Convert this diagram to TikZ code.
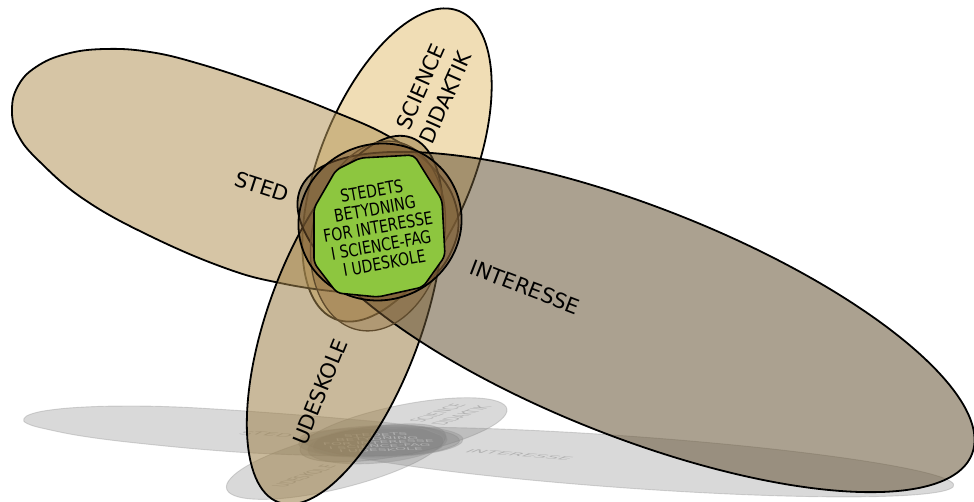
\documentclass[tikz,border=0pt]{standalone}
\usepackage{fontspec}
\setmainfont{DejaVu Sans}
\newfontfamily\condfont{DejaVu Sans}[FakeStretch=0.8]
\definecolor{scic}{RGB}{228,193,120}
\definecolor{stedc}{RGB}{180,150,91}
\definecolor{udec}{RGB}{157,128,73}
\definecolor{intc}{RGB}{102,84,53}
\definecolor{ringa}{RGB}{120,86,47}
\definecolor{ringb}{RGB}{140,105,60}
\definecolor{greenc}{RGB}{141,198,63}
\definecolor{edgeb}{RGB}{95,75,45}
\tikzset{
  big/.style={fill opacity=0.55, draw=black, line width=1.8pt},
  lab/.style={font=\fontsize{21}{27}\selectfont, align=center, inner sep=0pt},
  glab/.style={font=\condfont\fontsize{17.5}{18.3}\selectfont, align=center, inner sep=0pt},
  sh/.style={fill=black!50, fill opacity=0.3, draw=black!40, draw opacity=0.4, line width=0.9pt},
  shtext/.style={text=black!30, transform shape},
}
\newcommand\allshapes[7]{%
  \path[#1, rotate around={68:(397,165)}] (397,165) ellipse [x radius=166pt, y radius=77pt];
  \path[#2] plot[smooth cycle, tension=0.7] coordinates {(12,110) (18,86) (36,67) (66,54) (105,49) (150,52) (200,64) (267,86) (330,110) (390,137) (435,170) (457,210) (452,250) (425,282) (380,293) (340,292) (280,283) (225,268) (150,236) (85,200) (40,162) (18,135)};
  \path[#3, rotate around={70:(345,320)}] (345,320) ellipse [x radius=194pt, y radius=77pt];
  \path[#4, rotate around={-21.5:(636,322)}] (636,322) ellipse [x radius=361pt, y radius=115pt];
  \path[#5, rotate around={-12:(378,236)}] (378,236) ellipse [x radius=66pt, y radius=96pt];
  \path[#6, rotate around={20:(380,222)}] (380,222) ellipse [x radius=82pt, y radius=78pt];
  \path[#7, rounded corners=5pt] (336,170) -- (360,158) -- (414,155) -- (442,200) -- (445,256) -- (423,287) -- (378,297) -- (337,293) -- (314,263) -- (314,208) -- cycle;
}
\begin{document}
\begin{tikzpicture}[x=1pt, y=-1pt]
\useasboundingbox (0,0) rectangle (974,502);
\clip (0,0) rectangle (974,502);
% floor reflection
\begin{scope}[cm={1,0,0.1,0.205,(23pt,-396pt)}]
  \allshapes{sh}{sh}{sh}{sh}{sh}{sh}{sh}
  \node[lab, shtext, rotate=-18] (ssted) at (262,187) {STED};
  \node[lab, shtext, rotate=66] (ssci) at (435,90) {SCIENCE\\DIDAKTIK};
  \node[lab, shtext, rotate=-21] (sint) at (525,287) {INTERESSE};
  \node[lab, shtext, rotate=68] (sude) at (320,392) {UDESKOLE};
  \node[glab, shtext, rotate=10] (sctr) at (378,227) {STEDETS\\BETYDNING\\FOR INTERESSE\\I SCIENCE-FAG\\I UDESKOLE};
\end{scope}
% main figure
\allshapes{big, fill=scic}{big, fill=stedc}{big, fill=udec}{big, fill=intc}%
  {fill=ringb, fill opacity=0.4, draw=edgeb, line width=1.3pt}%
  {fill=ringa, fill opacity=0.5, draw=black, line width=1.8pt}%
  {fill=greenc, draw=black, line width=1.6pt}
\node[lab, rotate=-18] (sted) at (262,187) {STED};
\node[lab, rotate=66] (sci) at (433,92) {SCIENCE\\DIDAKTIK};
\node[lab, rotate=-21] (int) at (525,287) {INTERESSE};
\node[lab, rotate=68] (ude) at (320,392) {UDESKOLE};
\node[glab, rotate=10] (ctr) at (378,227) {STEDETS\\BETYDNING\\FOR INTERESSE\\I SCIENCE-FAG\\I UDESKOLE};
\end{tikzpicture}
\end{document}
